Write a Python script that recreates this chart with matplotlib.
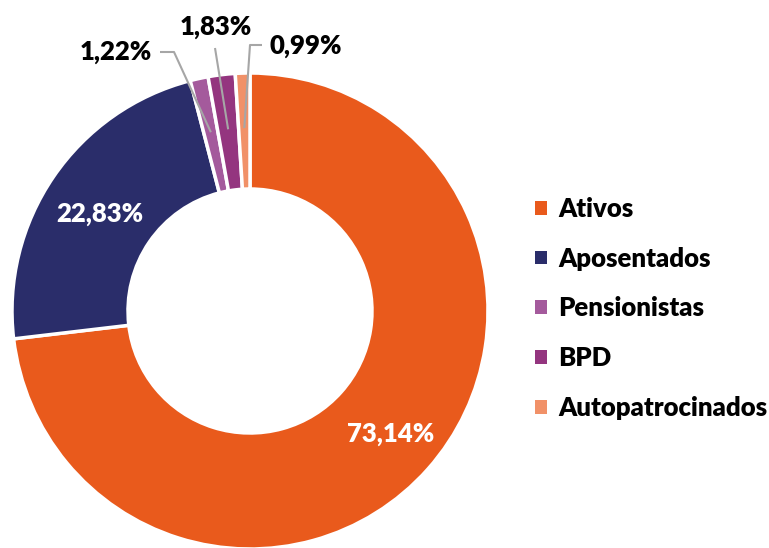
import matplotlib
matplotlib.use("Agg")
import matplotlib.pyplot as plt
from matplotlib.patches import Patch
from matplotlib import font_manager as fm
import numpy as np
import os

categories = ["Ativos", "Aposentados", "Pensionistas", "BPD", "Autopatrocinados"]
values = [73.14, 22.83, 1.22, 1.83, 0.99]
labels = ["73,14%", "22,83%", "1,22%", "1,83%", "0,99%"]
colors = ["#E95A1C", "#2A2D6A", "#A45A9C", "#94357F", "#F19168"]

prefs = ["Lato-Black.ttf", "Lato-Heavy.ttf", "Lato-ExtraBold.ttf", "Lato-Bold.ttf",
         "Inter-ExtraBold.otf", "Inter-Bold.otf", "DejaVuSans-Bold.ttf"]
files = {os.path.basename(f.fname): f.fname for f in fm.fontManager.ttflist}
bold_path = None
for p in prefs:
    if p in files:
        bold_path = files[p]
        break

def fp(size):
    if bold_path:
        return fm.FontProperties(fname=bold_path, size=size)
    return fm.FontProperties(family="DejaVu Sans", weight="bold", size=size)

W, H = 769, 548
fig = plt.figure(figsize=(W / 100, H / 100), dpi=100)
ax = fig.add_axes([0, 0, 1, 1])

cx, cy = 250, H - 311
R = 238
width = 116

wedges, _ = ax.pie(values, colors=colors, startangle=90, counterclock=False,
                   radius=R, center=(cx, cy),
                   wedgeprops=dict(width=width, edgecolor="white", linewidth=2.5),
                   frame=True)
ax.set_xlim(0, W)
ax.set_ylim(0, H)
ax.set_aspect("equal")
ax.axis("off")

def px(x, y):
    return x, H - y

FS = 18.5
ax.text(*px(391, 434), labels[0], color="white", fontproperties=fp(FS),
        ha="center", va="center")
ax.text(*px(100, 214), labels[1], color="white", fontproperties=fp(FS),
        ha="center", va="center")

total = sum(values)
cum = np.cumsum([0] + values)
rmid = R - width / 2 + 3
line_kw = dict(color="#A6A6A6", lw=1.5, solid_capstyle="butt")

def midpoint(i):
    f = (cum[i] + values[i] / 2) / total
    ang = np.deg2rad(90 - 360 * f)
    return cx + rmid * np.cos(ang), cy + rmid * np.sin(ang)

x0, y0 = midpoint(2)
ax.plot([x0, 174, 160], [y0, H - 52, H - 52], **line_kw)
ax.text(*px(152, 52), labels[2], color="black", fontproperties=fp(FS),
        ha="right", va="center")
x0, y0 = midpoint(3)
ax.plot([x0, 215], [y0, H - 48], **line_kw)
ax.text(*px(216, 27), labels[3], color="black", fontproperties=fp(FS),
        ha="center", va="center")
x0, y0 = midpoint(4)
ax.plot([x0, 250, 262], [y0, H - 45, H - 45], **line_kw)
ax.text(*px(270, 46), labels[4], color="black", fontproperties=fp(FS),
        ha="left", va="center")

handles = [Patch(facecolor=c, edgecolor="none") for c in colors]
leg = ax.legend(handles, categories, loc="upper left",
                bbox_to_anchor=(535 / W, 1 - 197 / H), frameon=False,
                prop=fp(FS),
                handlelength=0.45, handleheight=0.45, handletextpad=0.45,
                labelspacing=1.0, borderaxespad=0, borderpad=0)

fig.savefig("out.png", dpi=100)
